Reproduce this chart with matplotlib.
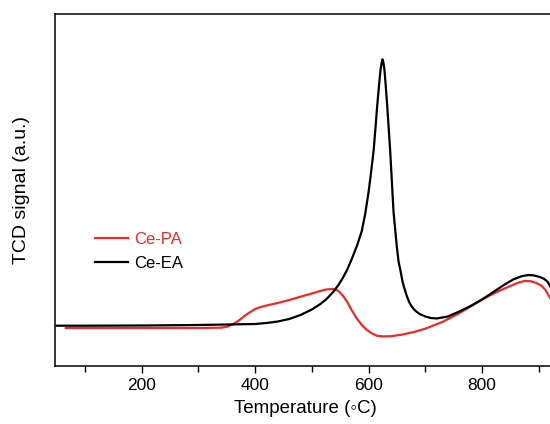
import matplotlib
matplotlib.use("Agg")
import matplotlib.pyplot as plt
from matplotlib.ticker import MultipleLocator

plt.rcParams['font.family'] = ['Liberation Sans', 'DejaVu Sans']

# Ce-EA (black) - temperature (C) and TCD signal (a.u.)
ea_temp = [50, 100, 200, 300, 350, 400, 420, 440, 460, 480, 500, 515, 525, 538,
           548, 555, 562, 570, 580, 588, 594, 600, 604, 609, 612, 615, 618, 621,
           623, 624.5, 626, 628, 630, 633, 636, 638, 641, 644, 647, 650, 653, 656,
           660, 664, 668, 672, 676, 682, 690, 700, 710, 720, 740, 760, 780, 800,
           820, 840, 855, 870, 882, 892, 902, 910, 916, 922]
ea_signal = [40.3, 40.3, 40.5, 41, 41.5, 42, 43, 44.5, 47, 51, 56.5, 62, 66.5, 74.3,
             82, 88.5, 96, 106.5, 121, 135, 152, 174, 192, 216, 237, 259, 278, 296,
             303, 306.7, 304, 296, 282, 259, 233, 216, 185, 154, 136, 118, 104, 96,
             84, 76, 69, 63.5, 59.5, 55.5, 52, 49.5, 48, 47.5, 49.5, 54.5, 60, 66.5,
             74, 81.5, 86.5, 89.8, 91, 90.5, 89, 87, 84, 78]

# Ce-PA (red)
pa_temp = [66, 100, 200, 300, 340, 350, 360, 370, 380, 390, 400, 410, 420, 440,
           460, 480, 500, 515, 525, 535, 542, 548, 555, 562, 570, 579, 588, 597,
           606, 615, 625, 640, 660, 680, 700, 730, 759, 790, 812, 830, 850, 865,
           875, 885, 895, 905, 912, 918, 922]
pa_signal = [38, 38, 38, 38, 38.3, 39.3, 41.5, 45, 49.5, 53.5, 57, 59, 60.5, 63,
             66, 69.3, 72.5, 75, 76.5, 77, 76.5, 74.5, 70, 64.3, 56, 47.7, 41, 36,
             32.5, 30.2, 29.6, 29.8, 31.5, 34, 37.3, 44, 52.5, 63, 70, 75, 80, 83.5,
             85, 84.8, 83.2, 80.3, 76, 70, 66]

fig = plt.figure(figsize=(5.5, 4.24), dpi=100)
ax = fig.add_axes([0.1, 0.1368, 0.9104, 0.8302])

ax.plot(pa_temp, pa_signal, color='#f02828', lw=1.6, label='Ce-PA')
ax.plot(ea_temp, ea_signal, color='black', lw=1.6, label='Ce-EA')

ax.set_xlim(47, 930)
ax.set_ylim(0, 352)
ax.xaxis.set_major_locator(MultipleLocator(200))
ax.xaxis.set_minor_locator(MultipleLocator(100))
ax.tick_params(axis='x', which='major', direction='out', length=5, width=1, labelsize=12.5)
ax.tick_params(axis='x', which='minor', direction='out', length=4, width=1)
ax.set_yticks([])
ax.spines['right'].set_visible(False)
for s in ['top', 'bottom', 'left']:
    ax.spines[s].set_linewidth(1.1)

ax.set_xlabel('Temperature (◦C)', fontsize=13.5, labelpad=5)
ax.set_ylabel('TCD signal (a.u.)', fontsize=14, labelpad=18)

leg = ax.legend(loc='upper left', bbox_to_anchor=(0.079, 0.381), frameon=False,
                fontsize=12, handlelength=2.0, handletextpad=0.4,
                labelspacing=0.55, borderpad=0, borderaxespad=0)
for txt, line in zip(leg.get_texts(), leg.get_lines()):
    txt.set_color(line.get_color())

fig.savefig('out.png', dpi=100)
